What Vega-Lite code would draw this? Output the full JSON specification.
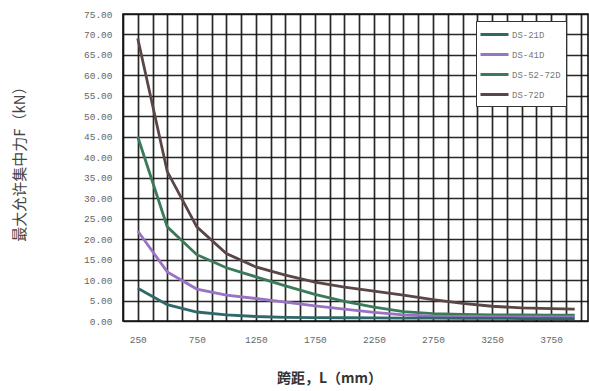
{
  "$schema": "https://vega.github.io/schema/vega-lite/v6.json",
  "autosize": {"type": "fit", "contains": "padding"},
  "width": 589,
  "height": 391,
  "padding": {"left": 12, "top": 9, "right": 1, "bottom": 6},
  "background": "#ffffff",
  "config": {
    "view": {"stroke": "#111111", "strokeWidth": 1.6},
    "axis": {
      "grid": true,
      "gridColor": "#111111",
      "gridOpacity": 0.9,
      "gridWidth": 1.7,
      "ticks": false,
      "domain": false,
      "labelFont": "Liberation Mono",
      "labelFontSize": 9.5,
      "labelColor": "#666666"
    }
  },
  "data": {
    "values": [
      {"series": "DS-72D", "L": 250, "F": 69},
      {"series": "DS-72D", "L": 500, "F": 36.5},
      {"series": "DS-72D", "L": 750, "F": 23},
      {"series": "DS-72D", "L": 1000, "F": 16.5},
      {"series": "DS-72D", "L": 1250, "F": 13.2},
      {"series": "DS-72D", "L": 1500, "F": 11.2},
      {"series": "DS-72D", "L": 1750, "F": 9.5},
      {"series": "DS-72D", "L": 2000, "F": 8.3},
      {"series": "DS-72D", "L": 2250, "F": 7.3},
      {"series": "DS-72D", "L": 2500, "F": 6.3},
      {"series": "DS-72D", "L": 2750, "F": 5.2},
      {"series": "DS-72D", "L": 3000, "F": 4.3},
      {"series": "DS-72D", "L": 3250, "F": 3.6},
      {"series": "DS-72D", "L": 3500, "F": 3.2},
      {"series": "DS-72D", "L": 3750, "F": 3.0},
      {"series": "DS-72D", "L": 3950, "F": 2.9},
      {"series": "DS-52-72D", "L": 250, "F": 45},
      {"series": "DS-52-72D", "L": 500, "F": 23},
      {"series": "DS-52-72D", "L": 750, "F": 16.2},
      {"series": "DS-52-72D", "L": 1000, "F": 13},
      {"series": "DS-52-72D", "L": 1250, "F": 10.8},
      {"series": "DS-52-72D", "L": 1500, "F": 8.6},
      {"series": "DS-52-72D", "L": 1750, "F": 6.5},
      {"series": "DS-52-72D", "L": 2000, "F": 4.8},
      {"series": "DS-52-72D", "L": 2250, "F": 3.4},
      {"series": "DS-52-72D", "L": 2500, "F": 2.3},
      {"series": "DS-52-72D", "L": 2750, "F": 1.8},
      {"series": "DS-52-72D", "L": 3000, "F": 1.6},
      {"series": "DS-52-72D", "L": 3250, "F": 1.5},
      {"series": "DS-52-72D", "L": 3500, "F": 1.5},
      {"series": "DS-52-72D", "L": 3750, "F": 1.4},
      {"series": "DS-52-72D", "L": 3950, "F": 1.4},
      {"series": "DS-41D", "L": 250, "F": 22},
      {"series": "DS-41D", "L": 500, "F": 12},
      {"series": "DS-41D", "L": 750, "F": 7.8},
      {"series": "DS-41D", "L": 1000, "F": 6.3},
      {"series": "DS-41D", "L": 1250, "F": 5.5},
      {"series": "DS-41D", "L": 1500, "F": 4.6},
      {"series": "DS-41D", "L": 1750, "F": 3.7},
      {"series": "DS-41D", "L": 2000, "F": 2.9},
      {"series": "DS-41D", "L": 2250, "F": 2.1},
      {"series": "DS-41D", "L": 2500, "F": 1.5},
      {"series": "DS-41D", "L": 2750, "F": 1.2},
      {"series": "DS-41D", "L": 3000, "F": 1.1},
      {"series": "DS-41D", "L": 3250, "F": 1.05},
      {"series": "DS-41D", "L": 3500, "F": 1.0},
      {"series": "DS-41D", "L": 3750, "F": 1.0},
      {"series": "DS-41D", "L": 3950, "F": 1.0},
      {"series": "DS-21D", "L": 250, "F": 8},
      {"series": "DS-21D", "L": 500, "F": 4},
      {"series": "DS-21D", "L": 750, "F": 2.2},
      {"series": "DS-21D", "L": 1000, "F": 1.5},
      {"series": "DS-21D", "L": 1250, "F": 1.1},
      {"series": "DS-21D", "L": 1500, "F": 0.9},
      {"series": "DS-21D", "L": 1750, "F": 0.8},
      {"series": "DS-21D", "L": 2000, "F": 0.8},
      {"series": "DS-21D", "L": 2250, "F": 0.75},
      {"series": "DS-21D", "L": 2500, "F": 0.7},
      {"series": "DS-21D", "L": 2750, "F": 0.7},
      {"series": "DS-21D", "L": 3000, "F": 0.65},
      {"series": "DS-21D", "L": 3250, "F": 0.65},
      {"series": "DS-21D", "L": 3500, "F": 0.6},
      {"series": "DS-21D", "L": 3750, "F": 0.6},
      {"series": "DS-21D", "L": 3950, "F": 0.6}
    ]
  },
  "mark": {"type": "line", "strokeWidth": 2.8, "interpolate": "linear"},
  "encoding": {
    "x": {
      "field": "L",
      "type": "quantitative",
      "scale": {"domain": [125, 4062.5], "nice": false, "zero": false},
      "axis": {
        "values": [125, 250, 375, 500, 625, 750, 875, 1000, 1125, 1250, 1375, 1500, 1625, 1750, 1875, 2000, 2125, 2250, 2375, 2500, 2625, 2750, 2875, 3000, 3125, 3250, 3375, 3500, 3625, 3750, 3875, 4000],
        "labelExpr": "(datum.value - 250) % 500 == 0 ? datum.value : ''",
        "labelPadding": 13,
        "labelOverlap": false,
        "grid": true,
        "title": "跨距，L（mm）",
        "titleFont": "Noto Sans CJK SC",
        "titleFontSize": 14,
        "titleFontWeight": "bold",
        "titleColor": "#333333",
        "titleX": 206,
        "titleY": 57,
        "titleAlign": "center",
        "titleBaseline": "middle"
      }
    },
    "y": {
      "field": "F",
      "type": "quantitative",
      "scale": {"domain": [0, 75], "nice": false},
      "axis": {
        "values": [0, 5, 10, 15, 20, 25, 30, 35, 40, 45, 50, 55, 60, 65, 70, 75],
        "format": ".2f",
        "labelPadding": 11,
        "grid": true,
        "title": "最大允许集中力F（kN）",
        "titleFont": "Noto Sans CJK SC",
        "titleFontSize": 15,
        "titleFontWeight": "normal",
        "titleColor": "#444444",
        "titleAngle": -90,
        "titleX": -104,
        "titleY": 146,
        "titleAlign": "center",
        "titleBaseline": "middle"
      }
    },
    "color": {
      "field": "series",
      "type": "nominal",
      "scale": {
        "domain": ["DS-21D", "DS-41D", "DS-52-72D", "DS-72D"],
        "range": ["#2f6868", "#9a72c4", "#3b7a58", "#5a4646"]
      },
      "legend": {
        "title": null,
        "orient": "none",
        "legendX": 353,
        "legendY": 7,
        "padding": 5,
        "fillColor": "#ffffff",
        "strokeColor": "#333333",
        "symbolType": "M-2,0H2",
        "symbolSize": 196,
        "symbolStrokeWidth": 3,
        "symbolOffset": 5,
        "labelOffset": 9,
        "rowPadding": 5,
        "labelFont": "Liberation Mono",
        "labelFontSize": 9,
        "labelColor": "#777777"
      }
    }
  }
}
